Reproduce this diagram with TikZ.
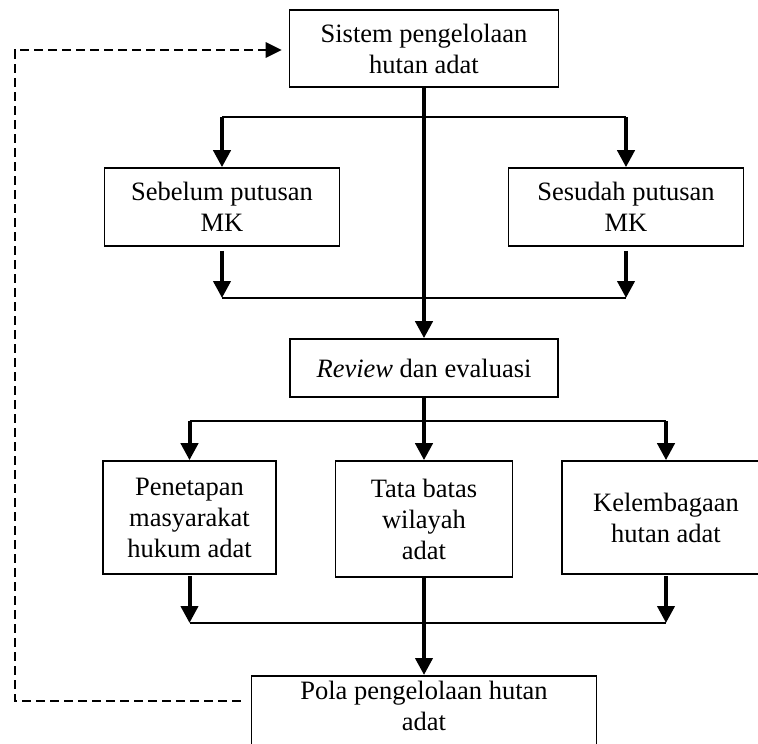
\documentclass[tikz,border=0pt]{standalone}
\usepackage{fontspec}
\setmainfont{Liberation Serif}
\usepackage{tikz}
\usetikzlibrary{calc,positioning,arrows.meta}
\tikzset{
    >={Triangle[length=17pt,width=17pt]},
    kotak/.style={
        rectangle,
        draw=black, line width=1.6pt,
        align=center,
        inner sep=5pt,
        font=\fontsize{26.5}{31}\selectfont
    },
    garis/.style={draw, line width=2.6pt},
    panah/.style={draw, line width=4pt, ->},
    umpan/.style={
        draw, line width=2.8pt,
        dash pattern=on 9pt off 5pt,
        ->, >={Triangle[length=16pt,width=15pt]}
    }
}

\begin{document}
\begin{tikzpicture}[x=1pt,y=-1pt]
    \useasboundingbox (0,0) rectangle (758,744);
    \node[kotak,minimum width=269pt,minimum height=77pt] (sistem) at (424,48.5) {Sistem pengelolaan\\hutan adat};
    \node[kotak,minimum width=235pt,minimum height=78pt] (sebelum) at (222,207) {Sebelum putusan\\MK};
    \node[kotak,minimum width=235pt,minimum height=78pt] (sesudah) at (626,207) {Sesudah putusan\\MK};
    \node[kotak,minimum width=268pt,minimum height=58pt] (review) at (424,368) {\textit{Review} dan evaluasi};
    \node[kotak,minimum width=173pt,minimum height=113pt] (penetapan) at (189.5,517.5) {Penetapan\\masyarakat\\hukum adat};
    \node[kotak,minimum width=177pt,minimum height=116pt] (tata) at (424,519) {Tata batas\\wilayah\\adat};
    \node[kotak,minimum width=208pt,minimum height=113pt] (kelembagaan) at (666,517.5) {Kelembagaan\\hutan adat};
    \node[kotak,minimum width=345pt,anchor=north] (pola) at (424,675) {Pola pengelolaan hutan\\adat\rule[-14pt]{0pt}{1pt}};

    \coordinate (bagiA) at (424,117);
    \coordinate (gabungB) at (424,298);
    \coordinate (bagiC) at (424,421);
    \coordinate (gabungD) at (424,623);
    \coordinate (balikBawah) at (15,701);
    \coordinate (balikAtas) at (15,50);

    \draw[panah] (sistem) -- (review);
    \draw[garis] (sebelum.north |- bagiA) -- (sesudah.north |- bagiA);
    \draw[panah] (sebelum.north |- bagiA) -- (sebelum.north);
    \draw[panah] (sesudah.north |- bagiA) -- (sesudah.north);
    \draw[garis] (sebelum.south |- gabungB) -- (sesudah.south |- gabungB);
    \draw[panah,shorten <=4pt] (sebelum.south) -- (sebelum.south |- gabungB);
    \draw[panah,shorten <=4pt] (sesudah.south) -- (sesudah.south |- gabungB);

    \draw[panah] (review) -- (tata);
    \draw[garis] (penetapan.north |- bagiC) -- (kelembagaan.north |- bagiC);
    \draw[panah] (penetapan.north |- bagiC) -- (penetapan.north);
    \draw[panah] (kelembagaan.north |- bagiC) -- (kelembagaan.north);
    \draw[garis] (penetapan.south |- gabungD) -- (kelembagaan.south |- gabungD);
    \draw[panah,shorten <=1pt] (penetapan.south) -- (penetapan.south |- gabungD);
    \draw[panah,shorten <=1pt] (kelembagaan.south) -- (kelembagaan.south |- gabungD);
    \draw[panah] (tata) -- (pola);

    \draw[umpan,shorten <=10pt,shorten >=7pt] (pola.west |- balikBawah) -- (balikBawah) -- (balikAtas) -- (sistem.west |- balikAtas);
\end{tikzpicture}
\end{document}
